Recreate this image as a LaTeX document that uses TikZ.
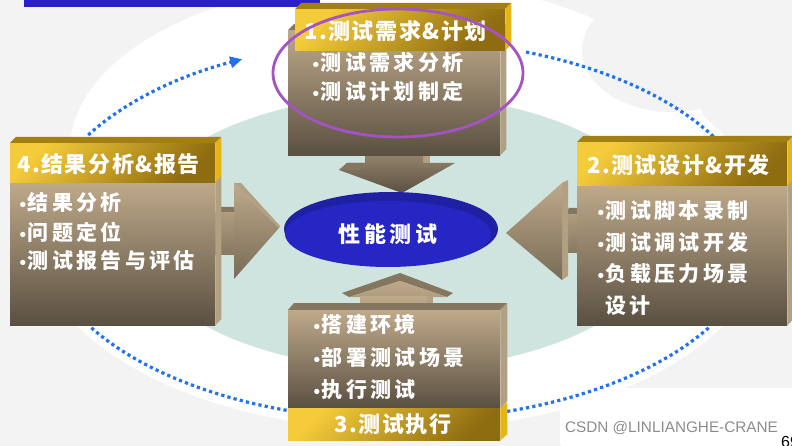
\documentclass[tikz,border=0pt]{standalone}
\usepackage{fontspec}
\newfontfamily\cjk{Noto Sans CJK SC}[LetterSpace=16]
\newfontfamily\cjkhead{Noto Sans CJK SC}[LetterSpace=7]
\newfontfamily\dejavu{DejaVu Sans}
\newfontfamily\wmfont{Liberation Sans}
\usetikzlibrary{arrows.meta,positioning,shapes.geometric}

\definecolor{bgGray}{HTML}{F3F3F3}
\definecolor{blueBar}{HTML}{2A20C8}
\definecolor{tealBg}{HTML}{D0E4DF}
\definecolor{dotBlue}{HTML}{2271F0}
\definecolor{purpleRing}{HTML}{A453C4}
\definecolor{coreBlue}{HTML}{2626C4}
\definecolor{coreRim}{HTML}{2020A4}
\definecolor{tanTop}{HTML}{BEA98A}
\definecolor{tanBot}{HTML}{5A5041}
\definecolor{tanSide}{HTML}{B2A083}
\definecolor{tanFace}{HTML}{85765F}
\definecolor{goldA}{HTML}{F4CB3A}
\definecolor{goldB}{HTML}{8E6C10}
\definecolor{goldSide}{HTML}{E4B514}
\definecolor{goldTop}{HTML}{A17F12}
\definecolor{wmGray}{HTML}{8C8C8C}

\newcommand{\bul}{{\dejavu\fontsize{15}{15}\selectfont •}}

\begin{document}
\begin{tikzpicture}[x=1pt, y=1pt,
    txt/.style={text=white, font=\cjk\bfseries\fontsize{21}{21}\selectfont, anchor=west, inner sep=0pt},
    headtxt/.style={txt, font=\cjkhead\bfseries\fontsize{22}{22}\selectfont},
    body/.style={top color=tanTop, bottom color=tanBot, inner sep=0pt, anchor=north west},
    gold/.style={top color=goldA, bottom color=goldB, shading angle=45, inner sep=0pt, anchor=north west},
    sideface/.style={fill=tanSide},
    topface/.style={fill=tanFace},
    goldside/.style={fill=goldSide},
    goldtop/.style={fill=goldTop},
    shaft/.style={top color=tanTop!85!tanBot, bottom color=tanTop!45!tanBot},
    flow/.style={draw=dotBlue, line width=3.2pt, dash pattern=on 3.2pt off 3.2pt},
    ring/.style={draw=purpleRing, line width=2.8pt}
]
  \useasboundingbox (0,0) rectangle (792,-446);
  \clip (0,0) rectangle (792,-446);

  % Background
  \fill[bgGray] (0,0) rectangle (792,-446);
  \fill[white] (400,-230) ellipse [x radius=368, y radius=200];
  \fill[white] (390,-150) ellipse [x radius=320, y radius=170];
  \fill[bgGray] (672,-50) ellipse [x radius=90, y radius=62];
  \fill[white, rounded corners=20] (560,-388) rectangle (810,-460);
  \fill[blueBar] (24,0) rectangle (320,-7);
  \fill[tealBg] (400,-232) ellipse [x radius=267, y radius=137];

  % Cycle arcs
  \coordinate (arcA) at ([shift={(400,-230)}]150:360 and 190);
  \coordinate (arcB) at ([shift={(400,-230)}]69.5:360 and 190);
  \coordinate (arcC) at ([shift={(400,-230)}]-31:360 and 190);
  \coordinate (arcD) at ([shift={(400,-230)}]211:360 and 190);
  \draw[flow, -{Triangle[length=12pt, width=11pt]}] (arcA) arc[start angle=150, end angle=116, x radius=360, y radius=190];
  \draw[flow] (arcB) arc[start angle=69.5, end angle=27, x radius=360, y radius=190];
  \draw[flow] (arcC) arc[start angle=-31, end angle=-73, x radius=360, y radius=190];
  \draw[flow] (arcD) arc[start angle=211, end angle=253, x radius=360, y radius=190];

  % Block arrows
  \fill[topface] (216,-213) -- (221,-207) -- (236,-207) -- (236,-213) -- cycle;
  \shade[shaft] (214,-213) rectangle (236,-255);
  \shade[top color=tanTop, bottom color=tanBot!70!tanTop] (234,-183) -- (279,-228) -- (234,-279) -- cycle;
  \fill[sideface] (234,-183) -- (241,-183) -- (280,-226) -- (279,-228) -- cycle;

  \fill[topface] (562,-215) -- (569,-208) -- (578,-208) -- (578,-215) -- cycle;
  \shade[shaft] (568,-215) rectangle (578,-253);
  \fill[sideface] (562,-183) -- (568,-180) -- (568,-276) -- (562,-280) -- cycle;
  \shade[top color=tanTop, bottom color=tanBot!70!tanTop] (562,-183) -- (506,-233) -- (562,-280) -- cycle;

  \fill[sideface] (423,-150) rectangle (430,-165);
  \shade[top color=tanTop!60!tanBot, bottom color=tanTop!45!tanBot] (365,-150) rectangle (423,-165);
  \shade[top color=tanTop!45!tanBot, bottom color=tanBot] (339,-170) -- (347,-163) -- (455,-163) -- (402,-193) -- cycle;
  \fill[topface] (339,-170) -- (347,-163) -- (365,-163) -- (359,-170) -- cycle;

  \fill[topface] (342,-293) -- (400,-273) -- (453,-293) -- (447,-297) -- (400,-281) -- (349,-297) -- cycle;
  \shade[top color=tanTop, bottom color=tanTop!85!tanBot] (349,-297) -- (400,-281) -- (447,-297) -- cycle;
  \fill[sideface] (427,-296) rectangle (433,-306);
  \shade[top color=tanTop, bottom color=tanTop!90!tanBot] (360,-296) rectangle (427,-306);

  % Centre
  \fill[coreRim] (391,-229) ellipse [x radius=107, y radius=37];
  \node[ellipse, fill=coreBlue, text=white, font=\cjk\bfseries\fontsize{22}{22}\selectfont,
        minimum width=206, minimum height=66, inner sep=0pt] (core) at (388,-234) {性能测试};

  % 1. requirements box (top)
  \fill[topface] (288,-30) -- (294,-24) -- (506,-24) -- (500,-30) -- cycle;
  \node[body, minimum width=212, minimum height=125] (reqbox) at (288,-30) {};
  \fill[sideface] (reqbox.north east) -- ++(6,6) -- ++(0,-125) -- (reqbox.south east) -- cycle;
  \fill[goldtop] (295,-9) -- (301,-3) -- (511,-3) -- (505,-9) -- cycle;
  \node[gold, minimum width=210, minimum height=41] (reqhead) at (295,-9) {};
  \fill[goldside] (reqhead.north east) -- ++(6,6) -- ++(0,-41) -- (reqhead.south east) -- cycle;
  \node[headtxt] (reqtitle) at (304,-31) {1.测试需求\&计划};
  \node[txt] (reqa) at (311,-62) {\bul 测试需求分析};
  \node[txt, below=29pt of reqa.west, anchor=west] (reqb) {\bul 测试计划制定};
  \draw[ring] (398,-73) ellipse [x radius=125, y radius=64];

  % 2. design box (right)
  \node[body, minimum width=210, minimum height=140] (desbox) at (577,-185) {};
  \fill[sideface] (desbox.north east) -- ++(6,6) -- ++(0,-140) -- (desbox.south east) -- cycle;
  \fill[goldtop] (577,-142) -- (583,-136) -- (793,-136) -- (787,-142) -- cycle;
  \node[gold, minimum width=210, minimum height=43] (deshead) at (577,-142) {};
  \fill[goldside] (deshead.north east) -- ++(6,6) -- ++(0,-43) -- (deshead.south east) -- cycle;
  \node[headtxt] (destitle) at (587,-165) {2.测试设计\&开发};
  \node[txt] (desa) at (596,-211) {\bul 测试脚本录制};
  \node[txt, below=31pt of desa.west, anchor=west] (desb) {\bul 测试调试开发};
  \node[txt, below=32pt of desb.west, anchor=west] (desc) {\bul 负载压力场景};
  \node[txt, below=32pt of desc.west, anchor=west, xshift=9pt] (desd) {设计};

  % 3. execution box (bottom)
  \fill[topface] (288,-310) -- (294,-303) -- (507,-303) -- (500,-310) -- cycle;
  \node[body, minimum width=212, minimum height=98] (exebox) at (288,-310) {};
  \fill[sideface] (exebox.north east) -- ++(7,7) -- ++(0,-98) -- (exebox.south east) -- cycle;
  \node[gold, minimum width=212, minimum height=32] (exehead) at (288,-408) {};
  \fill[goldside] (exehead.north east) -- ++(7,6) -- ++(0,-32) -- (exehead.south east) -- cycle;
  \node[headtxt, anchor=center] (exetitle) at (393,-424) {3.测试执行};
  \node[txt] (exea) at (312,-324) {\bul 搭建环境};
  \node[txt, below=33pt of exea.west, anchor=west] (exeb) {\bul 部署测试场景};
  \node[txt, below=33pt of exeb.west, anchor=west] (exec) {\bul 执行测试};

  % 4. report box (left)
  \node[body, minimum width=205, minimum height=143] (repbox) at (10,-182) {};
  \fill[sideface] (repbox.north east) -- ++(6,6) -- ++(0,-143) -- (repbox.south east) -- cycle;
  \fill[goldtop] (10,-143) -- (16,-137) -- (221,-137) -- (215,-143) -- cycle;
  \node[gold, minimum width=205, minimum height=39] (rephead) at (10,-143) {};
  \fill[goldside] (rephead.north east) -- ++(6,6) -- ++(0,-39) -- (rephead.south east) -- cycle;
  \node[headtxt] (reptitle) at (17,-164) {4.结果分析\&报告};
  \node[txt] (repa) at (18,-203) {\bul 结果分析};
  \node[txt, below=29pt of repa.west, anchor=west] (repb) {\bul 问题定位};
  \node[txt, below=29pt of repb.west, anchor=west] (repc) {\bul 测试报告与评估};

  % Watermark
  \node[font=\wmfont\fontsize{15.3}{15.3}\selectfont, text=wmGray] (mark) at (671.5,-428.5) {CSDN @LINLIANGHE-CRANE};
  \node[font=\wmfont\fontsize{16}{16}\selectfont, anchor=west, inner sep=0pt] (pageno) at (781,-442) {69};
\end{tikzpicture}
\end{document}
